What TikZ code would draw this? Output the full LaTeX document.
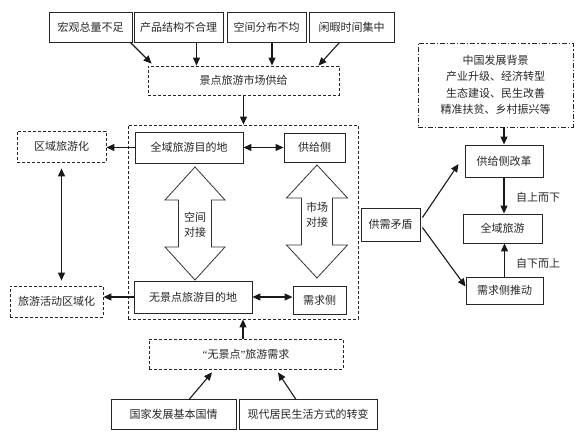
\documentclass[tikz,border=0pt]{standalone}
\usepackage{fontspec}
\setmainfont{Noto Sans CJK SC}
\newfontfamily\quotefont{Liberation Serif}
\usetikzlibrary{arrows.meta}

\begin{document}
\begin{tikzpicture}[x=1pt,y=-1pt,
  font=\fontsize{11}{13}\selectfont,
  box/.style={draw=black!85, line width=0.9pt, inner sep=0pt, text=black!85},
  dbox/.style={box, dash pattern=on 3pt off 2pt, line width=0.8pt},
  ddbox/.style={box, dash pattern=on 5pt off 2pt on 1.2pt off 2pt, line width=0.9pt},
  arr/.style={-{Triangle[length=8pt,width=7pt]}, line width=1.1pt, black!90},
  darr/.style={{Triangle[length=8pt,width=7pt]}-{Triangle[length=8pt,width=7pt]}, line width=1.1pt, black!90},
  fat/.style={draw=black!80, line width=0.8pt, fill=white}]

   \useasboundingbox (0,0) rectangle (585,438);

   % causes of supply
   \node[box, minimum width=83pt, minimum height=30pt] (q1) at (90.5,27) {宏观总量不足};
   \node[box, minimum width=89pt, minimum height=30pt] (q2) at (178.5,27) {产品结构不合理};
   \node[box, minimum width=79pt, minimum height=30pt] (q3) at (266.5,27) {空间分布不均};
   \node[box, minimum width=85pt, minimum height=30pt] (q4) at (351.5,27) {闲暇时间集中};
   \node[dbox, minimum width=191pt, minimum height=29pt] (supply) at (243.5,80.5) {景点旅游市场供给};

   \draw[arr] ([xshift=-2pt]q1.south east) -- ([xshift=4pt,yshift=2pt]supply.north west);
   \draw[arr] ([xshift=18pt]q2.south) -- ([xshift=18pt]q2.south |- supply.north);
   \draw[arr] ([xshift=5.5pt]q3.south) -- ([xshift=5.5pt]q3.south |- supply.north);
   \draw[arr] ([xshift=-12pt]q4.south) -- ([xshift=75pt]supply.north);

   % middle block
   \node[dbox, minimum width=230pt, minimum height=194pt] (big) at (243,222) {};
   \node[box, minimum width=108pt, minimum height=31pt] (qymd) at (189,147.5) {全域旅游目的地};
   \node[box, minimum width=61pt, minimum height=29pt] (gjc) at (314.5,147.5) {供给侧};
   \node[box, minimum width=118pt, minimum height=32pt] (wjdmd) at (193,297) {无景点旅游目的地};
   \node[box, minimum width=53pt, minimum height=28pt] (xqc) at (319.5,300) {需求侧};

   \draw[arr] (supply.south) -- (supply.south |- big.north);
   \draw[darr] (qymd.east) -- (gjc.west);
   \draw[darr] (wjdmd.east) -- (wjdmd.east -| xqc.west);

   \draw[fat] (195,167) -- (225,200) -- (211.5,200) -- (211.5,247) -- (225,247) -- (195,280)
     -- (165,247) -- (178.5,247) -- (178.5,200) -- (165,200) -- cycle;
   \draw[fat] (317,165) -- (347.5,198) -- (332.5,198) -- (332.5,245) -- (347.5,245) -- (317,278)
     -- (286.5,245) -- (301.5,245) -- (301.5,198) -- (286.5,198) -- cycle;
   \node[align=center, text=black!85, font=\fontsize{11}{15}\selectfont] (kj) at (195,224.5) {空间\\对接};
   \node[align=center, text=black!85, font=\fontsize{11}{15}\selectfont] (sc) at (317,214.5) {市场\\对接};

   % left side
   \node[dbox, minimum width=89pt, minimum height=31pt] (qyh) at (61.5,146.5) {区域旅游化};
   \node[dbox, minimum width=93pt, minimum height=31pt] (lyhd) at (56.5,301.5) {旅游活动区域化};
   \draw[arr] (qymd.west) -- (qymd.west -| qyh.east);
   \draw[arr] (wjdmd.west) -- (wjdmd.west -| lyhd.east);
   \draw[darr, shorten <=6pt, shorten >=5pt] (qyh.south) -- (qyh.south |- lyhd.north);

   % demand
   \node[dbox, minimum width=194pt, minimum height=30pt] (demand) at (246,354)
     {{\quotefont “}无景点{\quotefont ”}旅游需求};
   \node[box, minimum width=125pt, minimum height=30pt] (gq) at (173.5,414) {国家发展基本国情};
   \node[box, minimum width=138pt, minimum height=30pt] (shfs) at (308,414) {现代居民生活方式的转变};
   \draw[arr] (demand.north -| big.south) -- (big.south);
   \draw[arr] ([xshift=15.5pt,yshift=-1pt]gq.north) -- ([xshift=-34pt,yshift=-3pt]demand.south);
   \draw[arr] ([xshift=-12pt,yshift=-1pt]shfs.north) -- ([xshift=32pt,yshift=-3pt]demand.south);

   % right side
   \node[ddbox, minimum width=155pt, minimum height=84pt, align=center,
     font=\fontsize{11}{16.5}\selectfont] (bg) at (495.5,85)
     {中国发展背景\\产业升级、经济转型\\生态建设、民生改善\\精准扶贫、乡村振兴等};
   \node[box, minimum width=78pt, minimum height=32pt] (gjgg) at (504,161) {供给侧改革};
   \node[box, minimum width=79pt, minimum height=29pt] (qyly) at (502.5,228.5) {全域旅游};
   \node[box, minimum width=77pt, minimum height=27pt] (xqtd) at (504.5,290.5) {需求侧推动};
   \node[box, minimum width=59pt, minimum height=33pt] (gxmd) at (390.5,224.5) {供需矛盾};

   \draw[arr] (gjgg.north |- bg.south) -- (gjgg.north);
   \draw[arr] (gjgg.south) -- (gjgg.south |- qyly.north);
   \draw[arr] (xqtd.north) -- (xqtd.north |- qyly.south);
   \draw[arr] ([xshift=2pt,yshift=7pt]gxmd.east) -- ([xshift=-6pt,yshift=-3pt]gjgg.west);
   \draw[arr] ([xshift=2pt,yshift=-3pt]gxmd.east) -- ([yshift=4pt]xqtd.west);
   \node[text=black!85] (szx) at (538,197) {自上而下};
   \node[text=black!85] (xzs) at (538,263) {自下而上};
\end{tikzpicture}
\end{document}
